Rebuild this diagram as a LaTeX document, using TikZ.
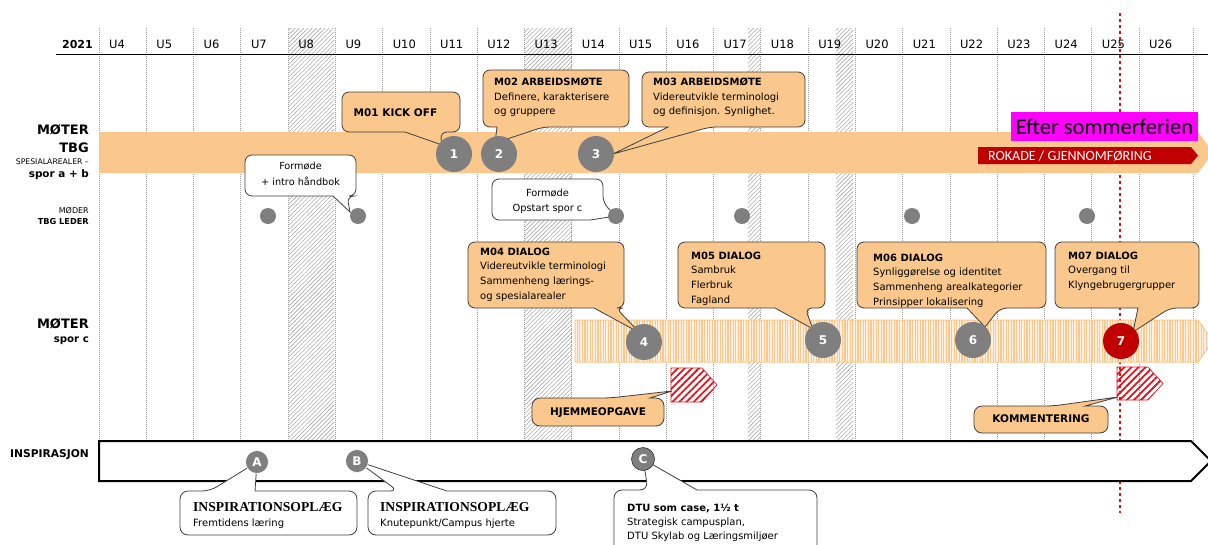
\documentclass[tikz,border=0pt]{standalone}
\usepackage{fontspec}
\setmainfont{DejaVu Sans}
\newfontfamily\calibfont{Carlito}
\newfontfamily\slabfont{Liberation Serif}
\usetikzlibrary{patterns.meta,calc}
\definecolor{orfill}{HTML}{FAC88C}
\definecolor{orlight}{HTML}{FFF1E2}
\definecolor{cbord}{HTML}{3F3F3F}
\definecolor{cgray}{HTML}{7F7F7F}
\definecolor{dred}{HTML}{C00000}
\definecolor{mag}{HTML}{FF00FF}
\definecolor{hred}{HTML}{E0141E}
\definecolor{gridc}{HTML}{9A9A9A}
\definecolor{hatchc}{HTML}{ABABAB}
\tikzset{
  gridline/.style={draw=gridc, line width=0.7pt, dash pattern=on 1pt off 1pt},
  hatchcol/.style={pattern={Lines[angle=45,distance=3pt,line width=0.6pt]}, pattern color=hatchc},
  callo/.style={fill=orfill, draw=cbord, line width=0.8pt},
  callw/.style={fill=white, draw=cbord, line width=0.8pt},
  txt/.style={inner sep=0pt, align=left, anchor=north west, font=\fontsize{10}{14.7}\selectfont},
  num/.style={circle, fill=cgray, minimum size=36pt, inner sep=0pt, text=white, font=\bfseries\fontsize{12}{12}\selectfont},
  tdot/.style={circle, fill=cgray, minimum size=16pt, inner sep=0pt},
  letc/.style={circle, fill=cgray, draw=white, line width=0.6pt, minimum size=23pt, inner sep=0pt, text=white, font=\bfseries\fontsize{12}{12}\selectfont},
  flag/.style={draw=hred, line width=0.6pt, pattern={Lines[angle=45,distance=5pt,line width=1.8pt]}, pattern color=hred},
  sidelbl/.style={inner sep=0pt, anchor=base east},
  hdr/.style={inner sep=0pt, anchor=base west, font=\fontsize{11.5}{12}\selectfont},
  plain/.style={inner sep=0pt, anchor=base},
}
% #1 style, #2 x1, #3 ytop, #4 x2, #5 ybottom, #6 base x1, #7 base x2, #8 tip
\newcommand\calloutdown[8]{%
  \path[#1] ({(#2+#4)/2},#3) [rounded corners=7pt] -- (#4,#3) -- (#4,#5) -- (#7,#5) [sharp corners] -- #8 -- (#6,#5) [rounded corners=7pt] -- (#2,#5) -- (#2,#3) -- cycle;}
\newcommand\calloutup[8]{%
  \path[#1] ({(#2+#4)/2},#5) [rounded corners=8pt] -- (#2,#5) -- (#2,#3) -- (#6,#3) [sharp corners] -- #8 -- (#7,#3) [rounded corners=8pt] -- (#4,#3) -- (#4,#5) -- cycle;}
\begin{document}
\begin{tikzpicture}[x=1pt,y=-1pt]
\useasboundingbox (0,0) rectangle (1208,544);
% hatched weeks
\foreach \a/\b in {289/334,525/572,748/760,836/853}
  \path[hatchcol] (\a,28) rectangle (\b,441);
% grid
\foreach \i in {0,...,22}
  \draw[gridline] ({99+\i*47.27},28) -- ({99+\i*47.27},441);
\draw[gridline] (1193,28) -- (1193,441);
% header
\draw[black, line width=1pt] (56,54) -- (1208,54);
\node[hdr, anchor=base east, font=\bfseries\fontsize{11}{12}\selectfont] (yr) at (93,48) {2021};
\foreach \i in {4,...,26}
  \node[hdr] (u\i) at ({99+(\i-4)*47.27+10},48) {U\i};
% red dotted line
\coordinate (rtop) at (1120,13);
\coordinate (rbot) at (1120,513);
\draw[red, line width=2.6pt, dash pattern=on 3pt off 3pt] (rtop) -- (rbot);
% TBG band
\path[fill=orfill] (99,132) -- (1198,132) -- (1213,152.5) -- (1198,173) -- (99,173) -- cycle;
\path[fill=dred] (978,147) -- (1191,147) -- (1198,155.5) -- (1191,164) -- (978,164) -- cycle;
\node[inner sep=0pt, anchor=west, text=white, font=\calibfont\fontsize{14}{14}\selectfont] (rokade) at (988,156) {ROKADE / GJENNOMFØRING};
\node[fill=mag, minimum width=187pt, minimum height=29pt, inner sep=0pt, font=\calibfont\fontsize{22.5}{23}\selectfont] (efter) at (1104.5,126.5) {Efter sommerferien};
% spor c band
\path[draw=orfill, line width=1pt, preaction={fill=orlight}, pattern={Lines[angle=90,distance=2.6pt,line width=1.1pt]}, pattern color=orfill] (575,320) -- (1198,320) -- (1213,341) -- (1198,362) -- (575,362) -- cycle;
% inspiration bar
\path[draw=black, line width=2pt, fill=white] (99,441) -- (1191,441) -- (1211,461) -- (1191,481) -- (99,481) -- cycle;
% anchor points
\coordinate (p1) at (454,154);
\coordinate (p2) at (499,154);
\coordinate (p3) at (596,154);
\coordinate (p4) at (644,342);
\coordinate (p5) at (823,340);
\coordinate (p6) at (973,340);
\coordinate (p7) at (1121,341);
\coordinate (q1) at (268,216);
\coordinate (q2) at (358,216);
\coordinate (q3) at (616,216);
\coordinate (pa) at (257,462);
\coordinate (pb) at (357,461);
\coordinate (pc) at (643,459);
\coordinate (fl1) at (672,391);
\coordinate (fl2) at (1118,397);
\coordinate (t1) at (442,145);
\coordinate (t2) at (495,143);
\coordinate (t3) at (613,154);
\coordinate (t4) at (640,333);
\coordinate (t5) at (813,329);
\coordinate (t6) at (985,327);
\coordinate (t7) at (1133,332);
\coordinate (tf1) at (350,212);
% callouts
\calloutdown{callo}{342}{92}{460}{132}{405}{440}{(t1)}
\calloutdown{callo}{483}{70}{629}{127}{497}{543}{(t2)}
\calloutdown{callo}{642}{72}{805}{127}{668}{710}{(t3)}
\calloutdown{callw}{245}{155}{356}{196}{333}{347}{(tf1)}
\path[callw] (547,179) [rounded corners=7pt] -- (603,179) -- (603,203) [sharp corners] -- (q3) -- (590,220) [rounded corners=7pt] -- (492,220) -- (492,179) -- cycle;
\calloutdown{callo}{468}{242}{624}{308}{594}{616}{(t4)}
\calloutdown{callo}{678}{242}{825}{308}{775}{805}{(t5)}
\calloutdown{callo}{857}{242}{1046}{308}{967}{1000}{(t6)}
\calloutdown{callo}{1055}{242}{1199}{308}{1138}{1170}{(t7)}
\calloutup{callo}{532}{398}{664}{426}{610}{650}{(fl1)}
\calloutup{callo}{974}{406}{1108}{433}{1053}{1085}{(fl2)}
\calloutup{callw}{180}{491}{357}{535}{210}{255}{(pa)}
\calloutup{callw}{368}{491}{556}{535}{398}{447}{(pb)}
\calloutup{callw}{614}{490}{817}{560}{648}{697}{(pc)}
% flags
\path[flag] (671,368) -- (702,368) -- (717,385) -- (702,402) -- (671,402) -- cycle;
\path[flag] (1117,367) -- (1148,367) -- (1163,383.5) -- (1148,400) -- (1117,400) -- cycle;
% circles
\node[num] (c1) at (p1) {1};
\node[num] (c2) at (p2) {2};
\node[num] (c3) at (p3) {3};
\node[num] (c4) at (p4) {4};
\node[num] (c5) at (p5) {5};
\node[num] (c6) at (p6) {6};
\node[num, fill=dred] (c7) at (p7) {7};
\node[tdot] (d1) at (q1) {};
\node[tdot] (d2) at (q2) {};
\node[tdot] (d3) at (q3) {};
\node[tdot] (d4) at (742,216) {};
\node[tdot] (d5) at (912,216) {};
\node[tdot] (d6) at (1087,216) {};
\node[letc] (la) at (pa) {A};
\node[letc] (lb) at (pb) {B};
\node[letc, draw=black!80] (lc) at (pc) {C};
% side labels
\node[sidelbl, font=\bfseries\fontsize{13}{13}\selectfont] (s1) at (89,134) {MØTER};
\node[sidelbl, font=\bfseries\fontsize{13}{13}\selectfont] (s2) at (89,152) {TBG};
\node[sidelbl, font=\fontsize{7.7}{8}\selectfont] (s3) at (89,164) {SPESIALAREALER –};
\node[sidelbl, font=\bfseries\fontsize{10.4}{11}\selectfont] (s4) at (89,177) {spor a + b};
\node[sidelbl, font=\fontsize{8}{8}\selectfont] (s5) at (89,213) {MØDER};
\node[sidelbl, font=\bfseries\fontsize{8.2}{8}\selectfont] (s6) at (89,224) {TBG LEDER};
\node[sidelbl, font=\bfseries\fontsize{13}{13}\selectfont] (s7) at (89,328) {MØTER};
\node[sidelbl, font=\bfseries\fontsize{10.2}{11}\selectfont] (s8) at (89,342) {spor c};
\node[inner sep=0pt, anchor=base west, font=\bfseries\fontsize{10.7}{11}\selectfont] (s9) at (10,457) {INSPIRASJON};
% callout texts
\node[plain, font=\bfseries\fontsize{10.5}{12}\selectfont] (m01t) at (395.5,116) {M01 KICK OFF};
\node[txt] (m02t) at (494,77.5) {\textbf{M02 ARBEIDSMØTE}\\Definere, karakterisere\\og gruppere};
\node[txt] (m03t) at (653,77.5) {\textbf{M03 ARBEIDSMØTE}\\Videreutvikle terminologi\\og definisjon. Synlighet.};
\node[inner sep=0pt, anchor=north, align=center, font=\fontsize{9.7}{15.5}\selectfont] (f1t) at (300.5,162) {Formøde\\+ intro håndbok};
\node[inner sep=0pt, anchor=north, align=center, font=\fontsize{9.8}{15}\selectfont] (f2t) at (547.5,189) {Formøde\\Opstart spor c};
\node[txt] (m04t) at (480,247.5) {\textbf{M04 DIALOG}\\Videreutvikle terminologi\\Sammenheng lærings-\\og spesialarealer};
\node[txt] (m05t) at (691,251.5) {\textbf{M05 DIALOG}\\Sambruk\\Flerbruk\\Fagland};
\node[txt] (m06t) at (873,253.5) {\textbf{M06 DIALOG}\\Synliggørelse og identitet\\Sammenheng arealkategorier\\Prinsipper lokalisering};
\node[txt] (m07t) at (1068,251.5) {\textbf{M07 DIALOG}\\Overgang til\\Klyngebrugergrupper};
\node[plain, font=\bfseries\fontsize{10.5}{12}\selectfont] (hjt) at (598,415) {HJEMMEOPGAVE};
\node[plain, font=\bfseries\fontsize{10.5}{12}\selectfont] (kot) at (1041,422) {KOMMENTERING};
\node[inner sep=0pt, anchor=base west, font=\slabfont\bfseries\fontsize{13.6}{14}\selectfont] (a1t) at (193,511) {INSPIRATIONSOPLÆG};
\node[inner sep=0pt, anchor=base west, font=\fontsize{10}{12}\selectfont] (a2t) at (193,526) {Fremtidens læring};
\node[inner sep=0pt, anchor=base west, font=\slabfont\bfseries\fontsize{13.6}{14}\selectfont] (b1t) at (380,511) {INSPIRATIONSOPLÆG};
\node[inner sep=0pt, anchor=base west, font=\fontsize{10}{12}\selectfont] (b2t) at (380,526) {Knutepunkt/Campus hjerte};
\node[txt, font=\fontsize{10}{14}\selectfont] (ct) at (627,503.5) {\textbf{DTU som case, 1½ t}\\Strategisk campusplan,\\DTU Skylab og Læringsmiljøer};
\end{tikzpicture}
\end{document}
